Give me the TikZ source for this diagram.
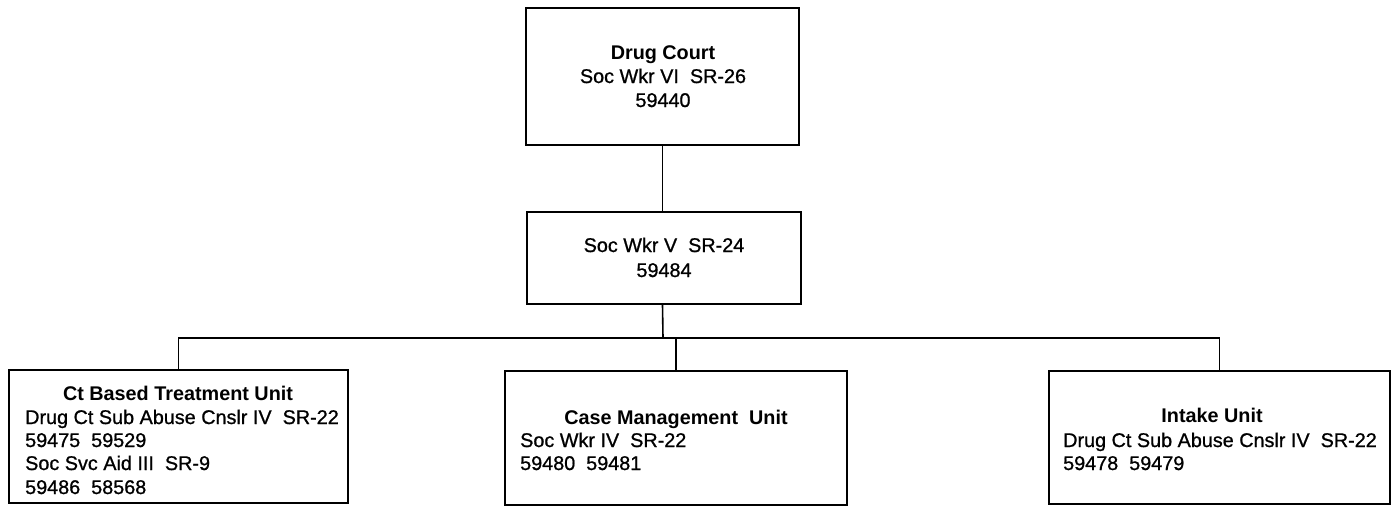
\documentclass[tikz,border=0pt]{standalone}
\usepackage{fontspec}
\setmainfont{Liberation Sans}
\newfontfamily\heavyfont[FakeBold=0.9]{Liberation Sans}
\begin{document}
\begin{tikzpicture}[x=1pt,y=-1pt,
  box/.style={draw,line width=1.8pt,rectangle,inner sep=0pt},
  txt/.style={inner sep=0pt,font=\heavyfont\fontsize{19.8}{23}\selectfont},
  head/.style={inner sep=0pt,font=\fontsize{19.8}{23}\selectfont\bfseries},
  link/.style={line width=1.6pt}]
\useasboundingbox (0,0) rectangle (1395,515);
% boxes
\node[box,minimum width=273pt,minimum height=137pt] (top) at (662.5,76.5) {};
\node[box,minimum width=274pt,minimum height=92pt] (mid) at (664,258) {};
\node[box,minimum width=339pt,minimum height=133pt] (left) at (178.5,436.5) {};
\node[box,minimum width=342pt,minimum height=134pt] (cen) at (676,438) {};
\node[box,minimum width=341pt,minimum height=133pt] (right) at (1219.5,437.5) {};
% texts
\node[head,anchor=base] (t1) at (663,59) {Drug Court};
\node[txt,anchor=base] (t2) at (663,83) {Soc Wkr VI\ \ SR-26};
\node[txt,anchor=base] (t3) at (663,107) {59440};
\node[txt,anchor=base] (m1) at (664,252) {Soc Wkr V\ \ SR-24};
\node[txt,anchor=base] (m2) at (664,277) {59484};
\node[head,anchor=base] (l1) at (178,400) {Ct Based Treatment Unit};
\node[txt,anchor=base west] (l2) at (25,424) {Drug Ct Sub Abuse Cnslr IV\ \ SR-22};
\node[txt,anchor=base west] (l3) at (25,447) {59475\ \ 59529};
\node[txt,anchor=base west] (l4) at (25,470) {Soc Svc Aid III\ \ SR-9};
\node[txt,anchor=base west] (l5) at (25,494) {59486\ \ 58568};
\node[head,anchor=base] (c1) at (676,424) {Case Management\ \ Unit};
\node[txt,anchor=base west] (c2) at (520,447) {Soc Wkr IV\ \ SR-22};
\node[txt,anchor=base west] (c3) at (520,470) {59480\ \ 59481};
\node[head,anchor=base] (r1) at (1212,422) {Intake Unit};
\node[txt,anchor=base west] (r2) at (1063,447) {Drug Ct Sub Abuse Cnslr IV\ \ SR-22};
\node[txt,anchor=base west] (r3) at (1063,470) {59478\ \ 59479};
% connectors
\coordinate (bus) at (663,338);
\draw[link] (top.south) -- (top.south |- mid.north);
\draw[link] (top.south |- mid.south) -- (bus);
\draw[link] (left.north) |- (bus) -| (right.north);
\draw[link] (cen.north) -- (cen.north |- bus);
\end{tikzpicture}
\end{document}
